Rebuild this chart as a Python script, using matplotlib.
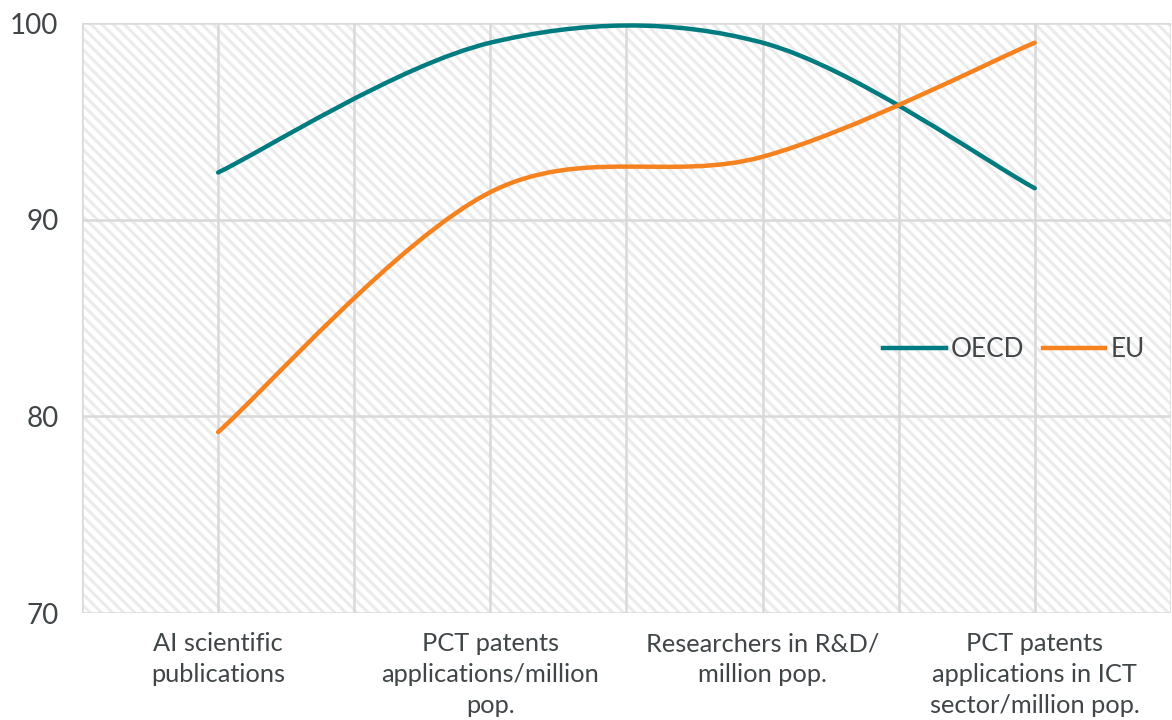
import numpy as np
import matplotlib.pyplot as plt
import matplotlib.patches as patches
from matplotlib.path import Path

plt.rcParams['font.family'] = ['Lato', 'DejaVu Sans']
plt.rcParams['hatch.linewidth'] = 2.2

# データ
CATEGORIES = [
    "AI scientific\npublications",
    "PCT patents\napplications/million\npop.",
    "Researchers in R&D/\nmillion pop.",
    "PCT patents\napplications in ICT\nsector/million pop.",
]
OECD = [92.4, 99.0, 99.0, 91.6]
EU = [79.2, 91.4, 93.2, 99.0]
Y_TICKS = [70, 80, 90, 100]

TEAL = '#007c80'
ORANGE = '#f5821f'
TEXT = '#404548'
GRID = '#d9d9d9'
HATCH = '#ebebeb'


def smooth_path(xs, ys):
    # Excel風のスムージング (Catmull-Rom -> Bezier)
    pts = np.column_stack([xs, ys]).astype(float)
    ext = np.vstack([pts[0], pts, pts[-1]])
    verts = [pts[0]]
    codes = [Path.MOVETO]
    for i in range(1, len(ext) - 2):
        p0, p1, p2, p3 = ext[i - 1], ext[i], ext[i + 1], ext[i + 2]
        c1 = p1 + (p2 - p0) / 6.0
        c2 = p2 - (p3 - p1) / 6.0
        verts += [c1, c2, p2]
        codes += [Path.CURVE4] * 3
    return Path(verts, codes)


def draw_series(ax, values, color, label):
    x = np.arange(len(values))
    path = smooth_path(x, values)
    patch = patches.PathPatch(path, facecolor='none', edgecolor=color,
                              linewidth=3.2, capstyle='round', zorder=4)
    ax.add_patch(patch)
    # 凡例用
    ax.plot([], [], color=color, linewidth=3.2, label=label)


def main():
    fig = plt.figure(figsize=(11.72, 7.2), dpi=100)
    ax = fig.add_axes([0.070, 0.1486, 0.929, 0.8194])
    n = len(CATEGORIES)
    ax.set_xlim(-0.5, n - 0.5)
    ax.set_ylim(70, 100)

    bg = patches.Rectangle((0, 0), 1, 1, transform=ax.transAxes, facecolor='white',
                           edgecolor=HATCH, linewidth=0, hatch='\\\\\\', zorder=0)
    ax.add_patch(bg)

    for v in np.arange(-0.5, n, 0.5):
        ax.axvline(v, color=GRID, linewidth=1.8, zorder=1)
    for v in Y_TICKS:
        ax.axhline(v, color=GRID, linewidth=1.8, zorder=1)

    draw_series(ax, OECD, TEAL, 'OECD')
    draw_series(ax, EU, ORANGE, 'EU')

    for s in ax.spines.values():
        s.set_visible(False)

    ax.set_xticks(range(n))
    ax.set_xticklabels(CATEGORIES, fontsize=18.3, color=TEXT, linespacing=1.4)
    ax.set_yticks(Y_TICKS)
    ax.set_yticklabels([str(v) for v in Y_TICKS], fontsize=20, color=TEXT)
    ax.tick_params(axis='x', length=0, pad=14)
    ax.tick_params(axis='y', length=0, pad=17)

    ax.legend(loc='center left', bbox_to_anchor=(0.714, 0.446), ncol=2, frameon=False,
              fontsize=18.8, handlelength=2.4, handletextpad=0.2, columnspacing=0.7,
              labelcolor=TEXT)

    fig.savefig('out.png', dpi=100)


if __name__ == '__main__':
    main()
